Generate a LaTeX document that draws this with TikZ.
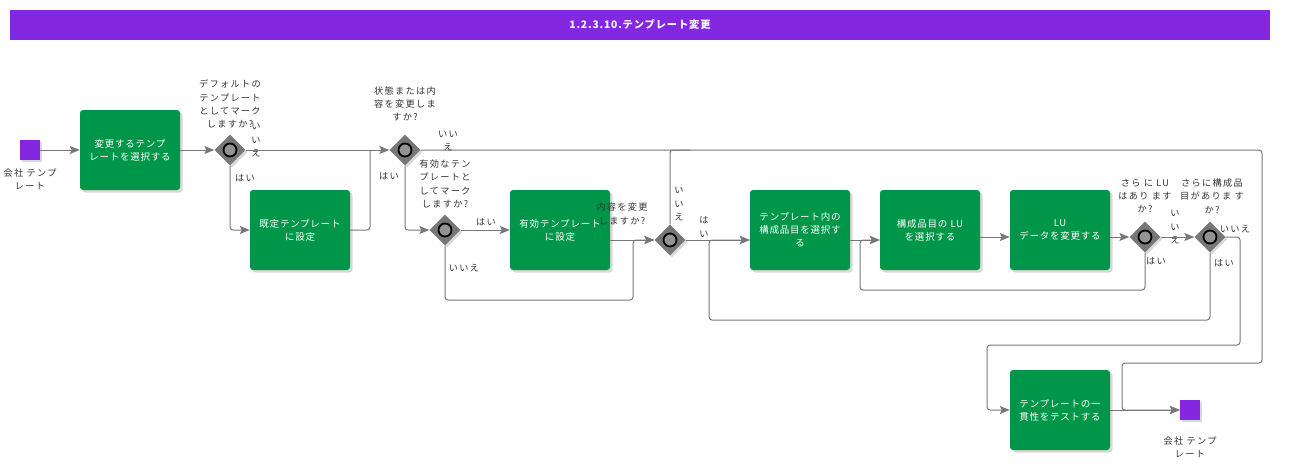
\documentclass[tikz,border=0pt]{standalone}
\usepackage{fontspec}
\setmainfont{Noto Sans CJK JP}[LetterSpace=8]
\newfontfamily\lblfont{Noto Sans CJK JP}[LetterSpace=14]
\usetikzlibrary{shapes.geometric,arrows.meta,shadows,calc}
\definecolor{taskg}{HTML}{009649}
\definecolor{purp}{HTML}{8427E0}
\definecolor{lineg}{HTML}{777777}
\definecolor{gwg}{HTML}{777777}
\begin{document}
\begin{tikzpicture}[x=1pt,y=-1pt,
 task/.style={fill=taskg,rounded corners=3pt,minimum width=100pt,minimum height=80pt,text width=94pt,align=center,text=white,inner sep=0pt,font=\fontsize{9.5}{13}\selectfont,drop shadow={shadow xshift=2.5pt,shadow yshift=-2.5pt,opacity=0.3}},
 gw/.style={diamond,fill=gwg,minimum width=31pt,minimum height=31pt,inner sep=0pt,drop shadow={shadow xshift=2pt,shadow yshift=-2pt,opacity=0.3}},
 gwc/.style={draw=black,line width=1.8pt,fill=gray!85},
 ev/.style={fill=purp,minimum size=20pt,inner sep=0pt,drop shadow={shadow xshift=2pt,shadow yshift=-2pt,opacity=0.3}},
 lbl/.style={align=center,text=black!80,font=\lblfont\fontsize{9.2}{13.3}\selectfont,inner sep=0pt},
 flow/.style={draw=lineg,line width=1pt,rounded corners=3pt,-{Stealth[length=10pt,width=8pt,inset=2pt]}},
 conn/.style={draw=lineg,line width=1pt,rounded corners=3pt}
]
\useasboundingbox (0,0) rectangle (1296,471);
% title
\node[fill=purp,minimum width=1260pt,minimum height=30pt,inner sep=0pt,text=white,font=\bfseries\fontsize{10.3}{12}\selectfont] (title) at (640,25) {1.2.3.10.テンプレート変更};

% nodes
\node[ev] (start) at (30,150) {};
\node[task] (t1) at (130,150) {変更するテンプ\\レートを選択する};
\node[gw] (g1) at (230,150) {};
\node[task] (t2) at (300,230) {既定テンプレート\\に設定};
\node[gw] (g2) at (405,150) {};
\node[gw] (g3) at (445,230) {};
\node[task] (t3) at (560,230) {有効テンプレート\\に設定};
\node[gw] (g4) at (670,240) {};
\node[task] (t4) at (800,230) {テンプレート内の\\構成品目を選択す\\る};
\node[task] (t5) at (930,230) {構成品目の LU\\を選択する};
\node[task] (t6) at (1060,230) {LU\\データを変更する};
\node[gw] (g5) at (1145,237) {};
\node[gw] (g6) at (1210,237) {};
\node[task] (t7) at (1060,410) {テンプレートの一\\貫性をテストする};
\node[ev] (end) at (1190,410) {};
\foreach \g in {g1,g2,g3,g4,g5,g6} \draw[gwc] (\g) circle (6.5);

% helper coordinates
\coordinate (c1) at (370,150);
\coordinate (c2) at (633,300);
\coordinate (rA) at (1262,363);
\coordinate (rB) at (1122,363);
\coordinate (c3) at (860,290);
\coordinate (c4) at (709,320);
\coordinate (c5) at (1240,345);
\coordinate (c6) at (987,345);

% connectors
\draw[flow] (start) -- (t1);
\draw[flow] (t1) -- (g1);
\draw[flow] (g1) -- (g2);
\draw[flow] (g1.south) |- (t2.west);
\draw[conn] (t2.east) -| (c1);
\draw[flow] (g2.south) |- (g3.west);
\draw[flow] (g2.east) -| (rA) -- (rB) |- (end.west);
\draw[flow] (g3) -- (t3);
\draw[flow] (g3.south) |- (c2) |- (g4.west);
\draw[flow] (t3.east |- g4) -- (g4.west);
\draw[conn] (g4.north) |- ($(g4.north |- g2)+(20,0)$);
\draw[flow] (g4.east) -- (t4.west |- g4);
\draw[flow] (t4.east |- g4) -- (t5.west |- g4);
\draw[flow] (t5.east |- g5) -- (t6.west |- g5);
\draw[flow] (t6.east |- g5) -- (g5.west);
\draw[flow] (g5) -- (g6);
\draw[flow] (g5.south) |- (c3) |- (t5.west |- g4);
\draw[flow] (g6.south) |- (c4) |- (t4.west |- g4);
\draw[flow] (g6.east) -| (c5) -- (c6) |- (t7.west);
\draw[flow] (t7) -- (end);

% labels
\node[lbl] (ls) at (30,179) {会社 テンプ\\レート};
\node[lbl] (le) at (1190,447) {会社 テンプ\\レート};
\node[lbl] (l1) at (230,104) {デフォルトの\\テンプレート\\としてマーク\\しますか?};
\node[lbl] (l1n) at (256,140) {い\\い\\え};
\node[lbl] (l1y) at (245,178) {はい};
\node[lbl] (l2) at (405,104) {状態または内\\容を変更しま\\すか?};
\node[lbl] (l2n) at (448,141) {いい\\え};
\node[lbl] (l2y) at (389,176) {はい};
\node[lbl] (l3) at (445,184) {有効なテン\\プレートと\\してマーク\\しますか?};
\node[lbl] (l3y) at (486,222) {はい};
\node[lbl] (l3n) at (464,268) {いいえ};
\node[lbl] (l4) at (622,214) {内容を変更\\しますか?};
\node[lbl] (l4n) at (679,204) {い\\い\\え};
\node[lbl] (l4y) at (704,227) {は\\い};
\node[lbl] (l5) at (1145,196) {さら に LU\\はあり ます\\か?};
\node[lbl] (l5n) at (1175,227) {い\\い\\え};
\node[lbl] (l5y) at (1156,261) {はい};
\node[lbl] (l6) at (1212,196) {さらに構成品\\目がありま す\\か?};
\node[lbl] (l6n) at (1235,229) {いいえ};
\node[lbl] (l6y) at (1224,263) {はい};
\end{tikzpicture}
\end{document}
